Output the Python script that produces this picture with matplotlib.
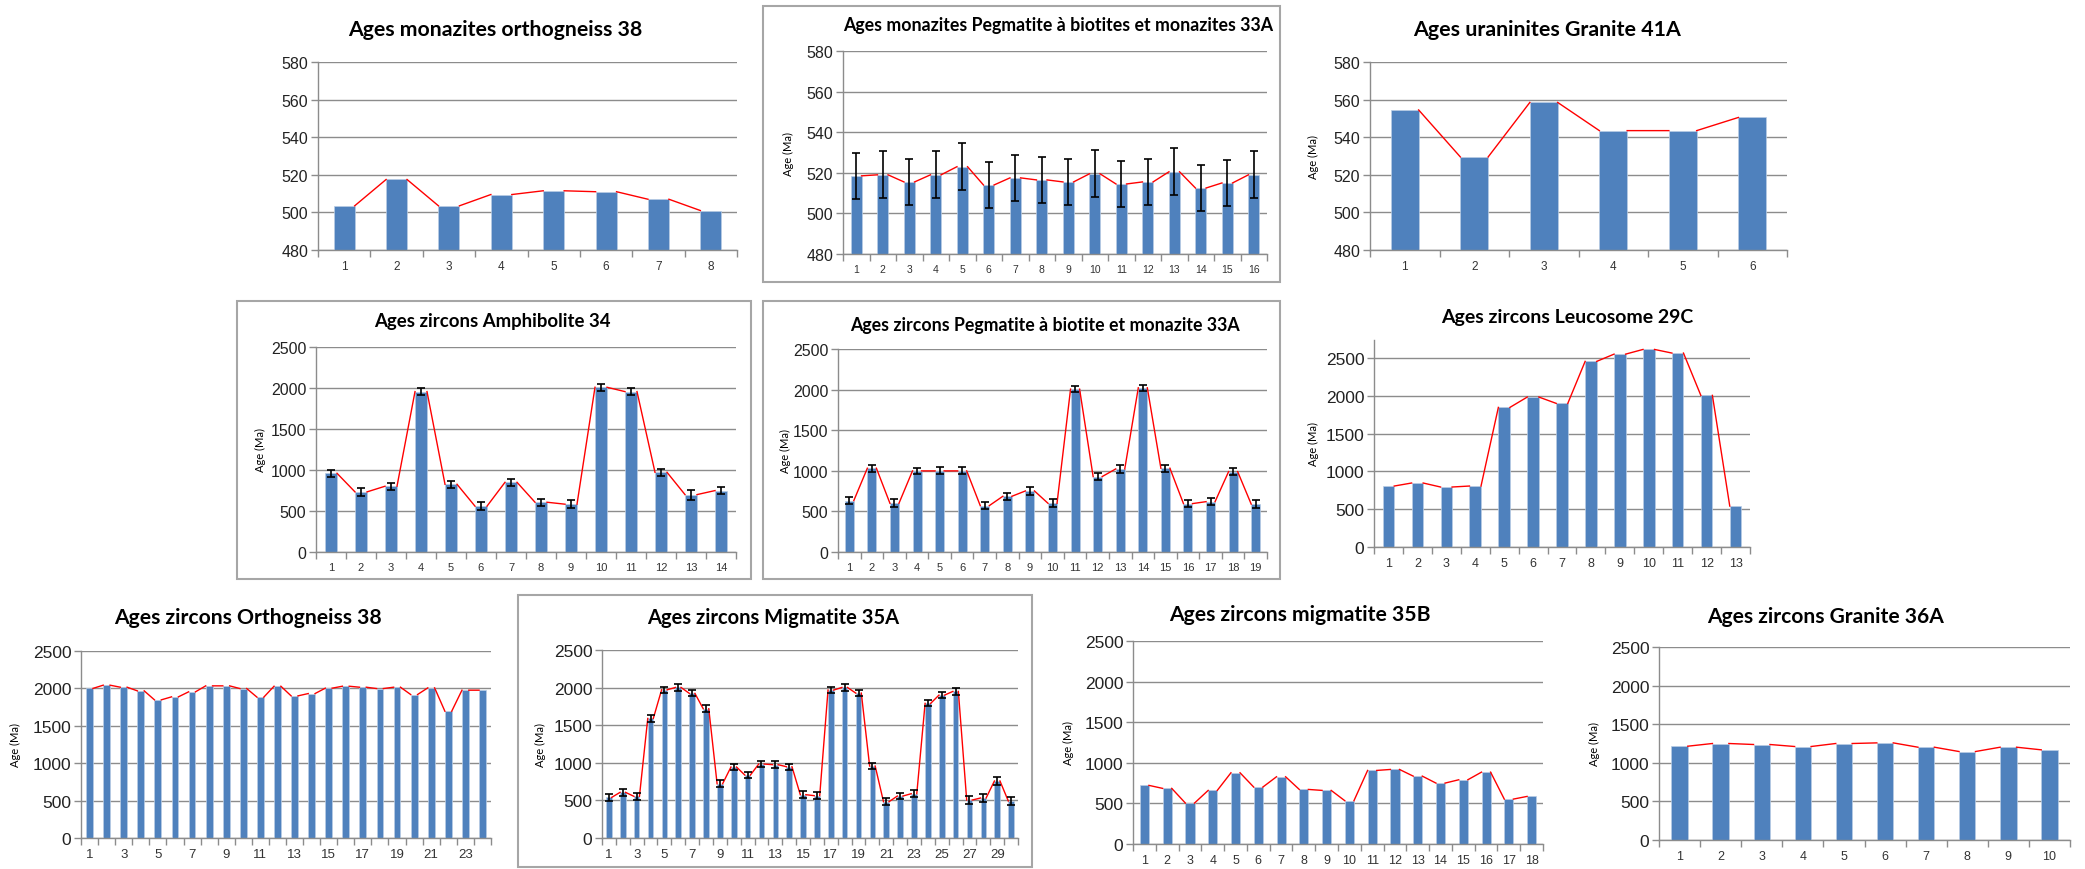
import numpy as np
import matplotlib
matplotlib.use("Agg")
from matplotlib import pyplot as plt
from matplotlib import font_manager
from matplotlib.patches import Rectangle

# Taille de l'image (pixels)
W, H = 2085, 870

BLUE = "#4F81BD"
GRID = "#8C8C8C"
FRAME = "#A6A6A6"
SANS = ["Liberation Sans", "DejaVu Sans"]

# police etroite pour les titres si disponible
installed = {f.name for f in font_manager.fontManager.ttflist}
if "Liberation Sans Narrow" in installed:
    NARROW = ["Liberation Sans Narrow", "DejaVu Sans"]
elif "Lato" in installed:
    NARROW = ["Lato", "DejaVu Sans"]
else:
    NARROW = SANS

# Donnees (ages en Ma)
mona_ortho38 = [503.5, 517.5, 503.5, 509.5, 511.5, 511, 507, 501]

mona_pegma33A = [518.5, 519, 515.5, 519, 523, 514, 517.5, 516.5,
                 515.5, 519.5, 514.5, 515.5, 520.5, 512.5, 515, 519]
mona_pegma33A_err = [11.5, 11.5, 11.5, 11.5, 11.5, 11.5, 11.5, 11.5,
                     11.5, 11.5, 11.5, 11.5, 11.5, 11.5, 11.5, 11.5]

uran_gran41A = [554.5, 529.5, 558.5, 543.5, 543.5, 550.5]

zirc_amph34 = [960, 733, 802, 1956, 826, 559, 850, 607, 583, 2009, 1956, 972, 700, 749]
zirc_amph34_err = [45, 45, 45, 40, 40, 48, 42, 45, 48, 40, 40, 45, 60, 42]

zirc_pegma33A = [633, 1032, 600, 999, 999, 999, 571, 686, 752, 600,
                 2006, 929, 1023, 2022, 1032, 596, 620, 990, 590]
zirc_pegma33A_err = [45, 45, 48, 38, 42, 42, 45, 45, 50, 48,
                     38, 45, 45, 38, 45, 45, 45, 40, 45]

zirc_leuco29C = [807, 847, 794, 807, 1848, 1985, 1901, 2457, 2553, 2615, 2567, 2007, 542]

zirc_ortho38 = [2000, 2043, 2016, 1967, 1847, 1887, 1954, 2034, 2034, 1998, 1883, 2029,
                1900, 1931, 2003, 2029, 2016, 1998, 2016, 1918, 2007, 1695, 1976, 1976]

zirc_migma35A = [540, 607, 554, 1590, 1971, 2002, 1923, 1719, 722, 944, 837, 983, 975, 948, 576,
                 563, 1967, 2002, 1927, 957, 483, 558, 589, 1790, 1900, 1949, 505, 532, 758, 492]
zirc_migma35A_err = [44, 45, 45, 45, 40, 42, 40, 45, 45, 45, 45, 42, 45, 42, 45,
                     45, 38, 42, 40, 45, 50, 45, 45, 40, 42, 42, 50, 48, 55, 50]

zirc_migma35B = [722, 685, 504, 660, 877, 701, 828, 672, 660, 533,
                 906, 918, 836, 750, 791, 885, 553, 586]

zirc_gran36A = [1215, 1250, 1237, 1211, 1250, 1258, 1202, 1146, 1202, 1168]

titles = [
    "Ages monazites orthogneiss 38",
    "Ages monazites Pegmatite à biotites et monazites 33A",
    "Ages uraninites Granite 41A",
    "Ages zircons Amphibolite 34",
    "Ages zircons Pegmatite à biotite et monazite 33A",
    "Ages zircons Leucosome 29C",
    "Ages zircons Orthogneiss 38",
    "Ages zircons Migmatite 35A",
    "Ages zircons migmatite 35B",
    "Ages zircons Granite 36A",
]

# Mise en page de chaque graphique (pixels) :
# zone de trace (x0, x1, y_haut, y_bas), titre (x centre, y centre, largeur), x du label "Age (Ma)"
panels = [
    dict(vals=mona_ortho38, err=None, ylim=(480, 580), yt=range(480, 581, 20),
         box=(318, 737, 63, 251), title=(495, 30, 296), ylab=None, xfs=8.5, yfs=11.5, odd=False),
    dict(vals=mona_pegma33A, err=mona_pegma33A_err, ylim=(480, 580), yt=range(480, 581, 20),
         box=(843, 1267, 52, 255), title=(1058, 25, 430), ylab=788, xfs=7.5, yfs=11.5, odd=False),
    dict(vals=uran_gran41A, err=None, ylim=(480, 580), yt=range(480, 581, 20),
         box=(1370, 1787, 63, 251), title=(1547, 30, 269), ylab=1313, xfs=8.5, yfs=11.5, odd=False),
    dict(vals=zirc_amph34, err=zirc_amph34_err, ylim=(0, 2500), yt=range(0, 2501, 500),
         box=(316, 736, 348, 553), title=(492, 322, 238), ylab=260, xfs=8, yfs=11.5, odd=False),
    dict(vals=zirc_pegma33A, err=zirc_pegma33A_err, ylim=(0, 2500), yt=range(0, 2501, 500),
         box=(838, 1267, 350, 553), title=(1045, 325, 390), ylab=785, xfs=8, yfs=11.5, odd=False),
    dict(vals=zirc_leuco29C, err=None, ylim=(0, 2740), yt=range(0, 2501, 500),
         box=(1374, 1750, 341, 548), title=(1567, 318, 253), ylab=1313, xfs=9, yfs=12.5, odd=False),
    dict(vals=zirc_ortho38, err=None, ylim=(0, 2500), yt=range(0, 2501, 500),
         box=(81, 491, 652, 839), title=(248, 618, 270), ylab=15, xfs=9.5, yfs=12.5, odd=True),
    dict(vals=zirc_migma35A, err=zirc_migma35A_err, ylim=(0, 2500), yt=range(0, 2501, 500),
         box=(602, 1018, 651, 839), title=(773, 618, 253), ylab=540, xfs=9.5, yfs=12.5, odd=True),
    dict(vals=zirc_migma35B, err=None, ylim=(0, 2500), yt=range(0, 2501, 500),
         box=(1133, 1543, 642, 845), title=(1300, 615, 263), ylab=1068, xfs=9, yfs=12.5, odd=False),
    dict(vals=zirc_gran36A, err=None, ylim=(0, 2500), yt=range(0, 2501, 500),
         box=(1659, 2070, 648, 841), title=(1826, 617, 238), ylab=1594, xfs=9, yfs=12.5, odd=False),
]

# Cadres gris autour de certains graphiques (x0, x1, y0, y1)
frames = [(763, 1280, 7, 283), (237, 751, 302, 580), (763, 1280, 302, 580), (518, 1032, 596, 868)]

fig = plt.figure(figsize=(W / 100, H / 100), dpi=100)
renderer = fig.canvas.get_renderer()

BAR_W = 0.4
title_texts = []

for p, title in zip(panels, titles):
    x0, x1, yt_, yb = p["box"]
    ax = fig.add_axes([x0 / W, 1 - yb / H, (x1 - x0) / W, (yb - yt_) / H])
    vals = np.array(p["vals"], dtype=float)
    n = len(vals)
    x = np.arange(1, n + 1)

    ax.bar(x, vals - p["ylim"][0], bottom=p["ylim"][0], width=BAR_W, color=BLUE,
           edgecolor="#B9CDE5", linewidth=0.5, zorder=2)
    if p["err"] is not None:
        ax.errorbar(x, vals, yerr=p["err"], fmt="none", ecolor="black",
                    elinewidth=1.2, capsize=3, capthick=1.2, zorder=4)

    # lignes de series : haut droit d'une barre -> haut gauche de la suivante
    sx = np.column_stack([x[:-1] + BAR_W / 2, x[1:] - BAR_W / 2, np.full(n - 1, np.nan)]).ravel()
    sy = np.column_stack([vals[:-1], vals[1:], np.full(n - 1, np.nan)]).ravel()
    ax.plot(sx, sy, color="red", lw=1, zorder=3)

    ax.set_xlim(0.5, n + 0.5)
    ax.set_ylim(*p["ylim"])
    ax.set_yticks(list(p["yt"]))
    ax.set_xticks(x)
    if p["odd"]:
        ax.set_xticklabels([str(i) if i % 2 == 1 else "" for i in x])
    else:
        ax.set_xticklabels([str(i) for i in x])
    ax.set_xticks(np.arange(0.5, n + 1), minor=True)

    ax.tick_params(axis="x", which="major", length=0, pad=7, labelsize=p["xfs"], labelcolor="#333333")
    ax.tick_params(axis="x", which="minor", length=5, color=GRID, width=1)
    ax.tick_params(axis="y", length=5, color=GRID, width=1, labelsize=p["yfs"], labelcolor="#222222", pad=2)
    for lab in ax.get_xticklabels() + ax.get_yticklabels():
        lab.set_family(SANS)

    ax.yaxis.grid(True, color=GRID, lw=1)
    ax.set_axisbelow(True)
    for s in ["top", "right"]:
        ax.spines[s].set_visible(False)
    for s in ["left", "bottom"]:
        ax.spines[s].set_color(GRID)
        ax.spines[s].set_linewidth(1)
    ax.patch.set_alpha(0)

    tx, ty, tw = p["title"]
    t = fig.text(tx / W, 1 - ty / H, title, ha="center", va="center", fontsize=16,
                 fontweight="bold", family=NARROW, color="black")
    title_texts.append((t, tw))
    if p["ylab"] is not None:
        fig.text(p["ylab"] / W, 1 - (yt_ + yb) / 2 / H, "Age (Ma)", rotation=90,
                 ha="center", va="center", fontsize=8, family=NARROW, color="black")

# ajuster la taille des titres a la largeur mesuree sur l'original
for t, tw in title_texts:
    bb = t.get_window_extent(renderer)
    t.set_fontsize(16 * tw / bb.width)

for fx0, fx1, fy0, fy1 in frames:
    fig.patches.append(Rectangle((fx0 / W, 1 - fy1 / H), (fx1 - fx0) / W, (fy1 - fy0) / H,
                                 transform=fig.transFigure, fill=False, ec=FRAME, lw=1.5))

plt.savefig("out.png", dpi=100)
plt.close()
